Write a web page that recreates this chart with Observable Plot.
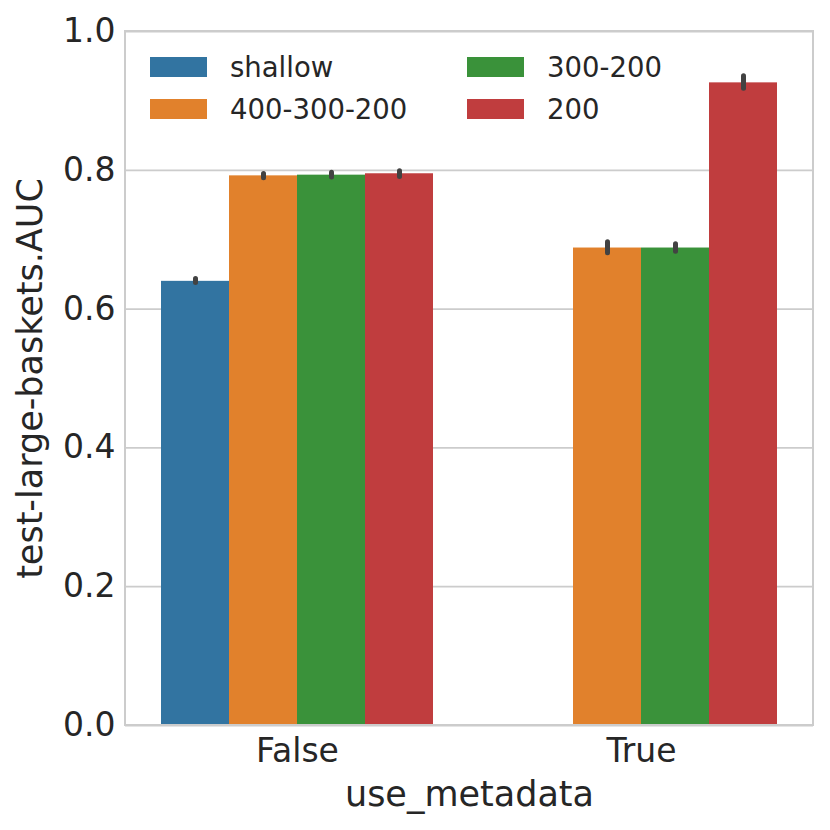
<!DOCTYPE html>
<html>
<head>
<meta charset="utf-8">
<script src="https://cdn.jsdelivr.net/npm/d3@7"></script>
<script src="https://cdn.jsdelivr.net/npm/@observablehq/plot@0.6"></script>
<style>
  html, body { margin: 0; padding: 0; background: #fff; }
  #wrap { position: relative; width: 830px; height: 830px; font-family: "DejaVu Sans", sans-serif; }
  #legend { position: absolute; left: 150px; top: 57px; display: grid; grid-template-columns: 317px 200px; row-gap: 22px; }
  .item { display: flex; align-items: center; height: 20px; font-size: 27.5px; color: #262626; }
  .sw { width: 57px; height: 20px; margin-right: 23px; box-sizing: border-box; }
</style>
</head>
<body>
<div id="wrap"><div id="legend"></div></div>
<script>
const metadata = ["False", "True"];
const models = ["shallow", "400-300-200", "300-200", "200"];
const colors = ["#3274a1", "#e1812c", "#3a923a", "#c03d3e"];
const valuesFalse = [0.640, 0.792, 0.793, 0.795];
const valuesTrue = [null, 0.688, 0.688, 0.926];
const errLoFalse = [0.6375, 0.7885, 0.7895, 0.7905];
const errHiFalse = [0.6435, 0.7945, 0.7965, 0.7985];
const errLoTrue = [null, 0.6805, 0.6825, 0.9175];
const errHiTrue = [null, 0.6965, 0.6935, 0.9355];
const yTicks = [0, 0.2, 0.4, 0.6, 0.8, 1.0];

const rows = [];
const sets = [[valuesFalse, errLoFalse, errHiFalse], [valuesTrue, errLoTrue, errHiTrue]];
metadata.forEach((m, i) => {
  const [v, lo, hi] = sets[i];
  models.forEach((model, j) => {
    if (v[j] != null) rows.push({use_metadata: m, model, value: v[j], lo: lo[j], hi: hi[j]});
  });
});

const mL = 125, mR = 17, mT = 31, mB = 105, W = 830, H = 830;

const chart = Plot.plot({
  width: W, height: H,
  marginLeft: mL, marginRight: mR, marginTop: mT, marginBottom: mB,
  style: {fontFamily: "DejaVu Sans", fontSize: "33px", color: "#262626", background: "white", overflow: "visible"},
  fx: {domain: metadata, padding: 0},
  x: {domain: models, paddingInner: 0, paddingOuter: 0.5, axis: null},
  y: {domain: [0, 1]},
  color: {domain: models, range: colors},
  marks: [
    Plot.ruleY(yTicks, {stroke: "#cccccc", strokeWidth: 1.8}),
    Plot.barY(rows, {fx: "use_metadata", x: "model", y: "value", fill: "model"}),
    Plot.ruleX(rows, {fx: "use_metadata", x: "model", y1: "lo", y2: "hi", stroke: "#424242", strokeWidth: 5, strokeLinecap: "round"}),
    Plot.axisY(yTicks, {anchor: "left", tickSize: 0, tickPadding: 10, tickFormat: d3.format(".1f"), fontSize: 33, label: null}),
    Plot.axisY([], {anchor: "left", tickSize: 0, fontSize: 35,
      label: "test-large-baskets.AUC", labelArrow: "none", labelAnchor: "center", labelOffset: 108}),
    Plot.axisFx({anchor: "bottom", tickSize: 0, tickPadding: 13, fontSize: 33, label: null}),
    Plot.axisFx([], {anchor: "bottom", tickSize: 0, fontSize: 35, label: "use_metadata", labelArrow: "none", labelAnchor: "center", labelOffset: 80})
  ]
});

d3.select(chart).append("rect")
  .attr("x", mL).attr("y", mT).attr("width", W - mL - mR).attr("height", H - mT - mB)
  .attr("fill", "none").attr("stroke", "#cccccc").attr("stroke-width", 2);

const wrap = document.getElementById("wrap");
wrap.insertBefore(chart, wrap.firstChild);
chart.style.position = "absolute"; chart.style.left = "0"; chart.style.top = "0";

const legendOrder = [0, 2, 1, 3];
const legend = document.getElementById("legend");
legendOrder.forEach(i => {
  const it = document.createElement("div"); it.className = "item";
  const sw = document.createElement("div"); sw.className = "sw"; sw.style.background = colors[i];
  it.appendChild(sw);
  const t = document.createElement("span"); t.textContent = models[i];
  it.appendChild(t);
  legend.appendChild(it);
});
</script>
</body>
</html>
